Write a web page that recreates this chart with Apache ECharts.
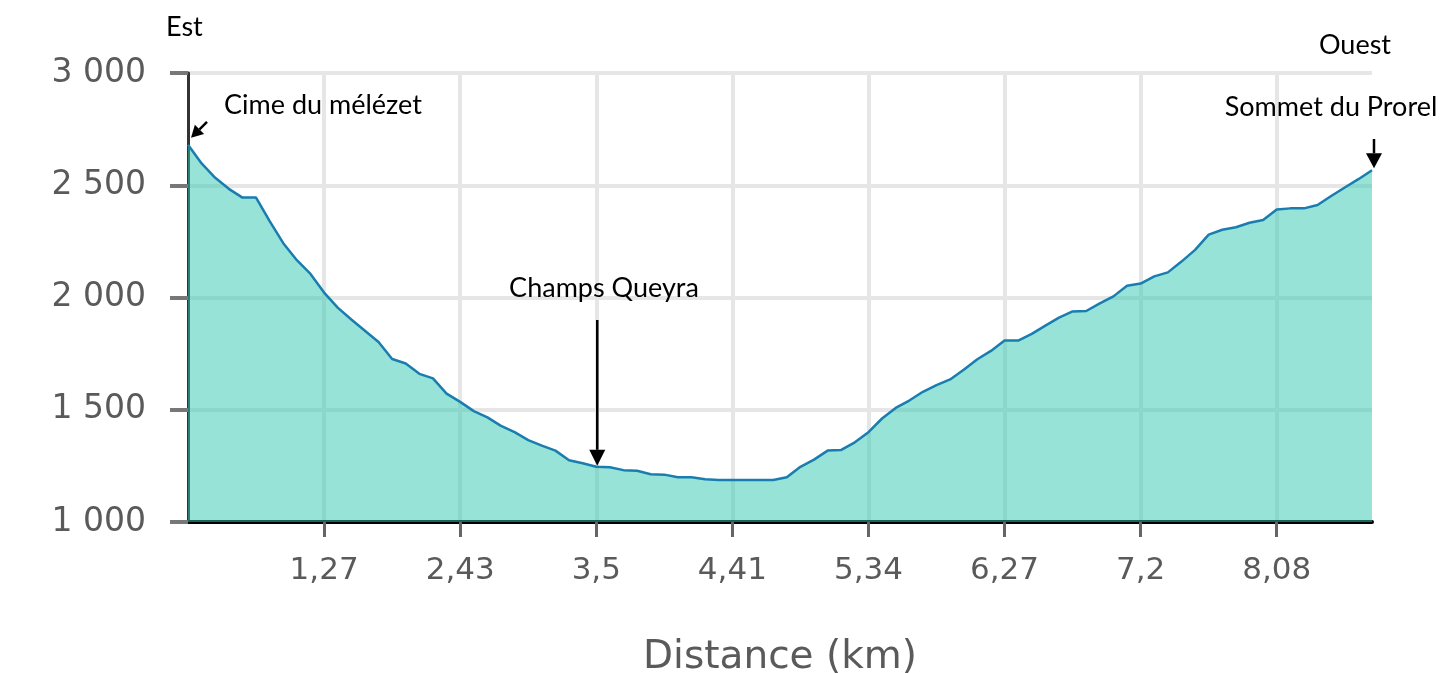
<!DOCTYPE html>
<html><head><meta charset="utf-8">
<script src="https://cdn.jsdelivr.net/npm/echarts@6/dist/echarts.min.js"></script>
<style>html,body{margin:0;padding:0;background:#fff}#c{width:1444px;height:673px}</style>
</head><body><div id="c"></div>
<script>
// Elevation profile (m), one value per sample point
const elevation = [
  2680, 2597, 2533, 2484, 2445, 2445, 2340, 2242, 2166, 2105,
  2022, 1955, 1902, 1852, 1802, 1726, 1706, 1660, 1640, 1572,
  1535, 1494, 1466, 1428, 1400, 1365, 1340, 1318, 1275, 1262,
  1246, 1244, 1231, 1228, 1213, 1211, 1199, 1199, 1190, 1187,
  1187, 1187, 1187, 1187, 1199, 1246, 1278, 1318, 1321, 1355,
  1400, 1461, 1508, 1541, 1580, 1610, 1635, 1678, 1725, 1762,
  1808, 1808, 1838, 1875, 1910, 1938, 1940, 1974, 2005, 2052,
  2062, 2094, 2112, 2160, 2212, 2280, 2302, 2313, 2333, 2345,
  2392, 2397, 2397, 2412, 2452, 2490, 2527, 2567
];
// Distance tick labels (km), shown every 10 sample points
const tickLabels = ['1,27', '2,43', '3,5', '4,41', '5,34', '6,27', '7,2', '8,08'];
const tickStep = 10;
const categories = elevation.map((_, i) => String(i));

const yMin = 1000, yMax = 3000, yStep = 500;

const annotations = [
  { text: 'Cime du mélézet', point: 0 },
  { text: 'Champs Queyra', point: 30 },
  { text: 'Sommet du Prorel', point: 87 }
];
const directions = ['Est', 'Ouest'];

const showTick = (i) => i > 0 && i % tickStep === 0 && (i / tickStep) <= tickLabels.length;

const labelColor = '#5a5a5a';
const option = {
  animation: false,
  backgroundColor: '#ffffff',
  grid: { left: 188, right: 72, top: 73, bottom: 151, containLabel: false, outerBoundsMode: 'none' },
  xAxis: {
    type: 'category',
    data: categories,
    boundaryGap: false,
    name: 'Distance (km)',
    nameLocation: 'middle',
    nameGap: 116,
    nameTextStyle: { fontFamily: 'DejaVu Sans', fontSize: 39, color: labelColor },
    axisLine: { show: true, lineStyle: { color: '#000', width: 4 } },
    axisTick: { show: true, interval: (i) => showTick(i), length: 15, lineStyle: { color: '#666', width: 3 } },
    axisLabel: {
      interval: (i) => showTick(i),
      formatter: (v, i) => showTick(Number(v)) ? tickLabels[Number(v) / tickStep - 1] : '',
      fontFamily: 'DejaVu Sans', fontSize: 31, color: labelColor, margin: 33
    },
    splitLine: { show: true, interval: (i) => showTick(i), lineStyle: { color: '#e6e6e6', width: 4 } }
  },
  yAxis: {
    type: 'value',
    min: yMin, max: yMax, interval: yStep,
    axisLine: { show: true, lineStyle: { color: '#333', width: 3 } },
    axisTick: { show: true, length: 18, lineStyle: { color: '#777', width: 4 } },
    axisLabel: {
      formatter: (v) => String(v).replace(/\B(?=(\d{3})+(?!\d))/g, ' '),
      fontFamily: 'DejaVu Sans', fontSize: 33, color: labelColor, margin: 42
    },
    splitLine: { show: true, lineStyle: { color: '#e6e6e6', width: 4 } }
  },
  series: [{
    type: 'line',
    data: elevation,
    showSymbol: false,
    lineStyle: { color: '#1a7db0', width: 2.5 },
    areaStyle: { color: 'rgba(50,200,175,0.5)', opacity: 1 },
    z: 2
  }]
};

const chart = echarts.init(document.getElementById('c'));
chart.setOption(option);

function px(i) { return chart.convertToPixel({ gridIndex: 0 }, [i, elevation[i]]); }
function arrow(x1, y1, x2, y2, head, w) {
  const dx = x2 - x1, dy = y2 - y1, L = Math.hypot(dx, dy);
  const ux = dx / L, uy = dy / L;
  const bx = x2 - ux * head, by = y2 - uy * head;
  return [
    { type: 'line', shape: { x1, y1, x2: bx, y2: by }, style: { stroke: '#000', lineWidth: 2.5 }, z: 10 },
    { type: 'polygon', shape: { points: [[x2, y2], [bx - uy * w / 2, by + ux * w / 2], [bx + uy * w / 2, by - ux * w / 2]] }, style: { fill: '#000' }, z: 10 }
  ];
}
const txtFont = '27px Lato, "Open Sans", sans-serif';
function text(t, x, y, align) {
  return { type: 'text', x, y, style: { text: t, font: txtFont, fill: '#000', align: align || 'center', verticalAlign: 'middle' }, z: 10 };
}

const p0 = px(annotations[0].point);
const p1 = px(annotations[1].point);
const p2 = px(annotations[2].point);
const g = [];
g.push(text(directions[0], 166, 27, 'left'));
g.push(text(directions[1], 1355, 45));
g.push(text(annotations[0].text, 224, 105, 'left'));
g.push(...arrow(p0[0] + 19, p0[1] - 23, p0[0] + 3, p0[1] - 7, 12, 13));
g.push(text(annotations[1].text, 604, 288));
g.push(...arrow(p1[0] + 1, 320, p1[0] + 1, p1[1] - 1, 16, 16));
g.push(text(annotations[2].text, 1331, 107));
g.push(...arrow(p2[0] + 2, 139, p2[0] + 2, p2[1] - 2, 15, 16));
chart.setOption({ graphic: g });
</script>
</body></html>
